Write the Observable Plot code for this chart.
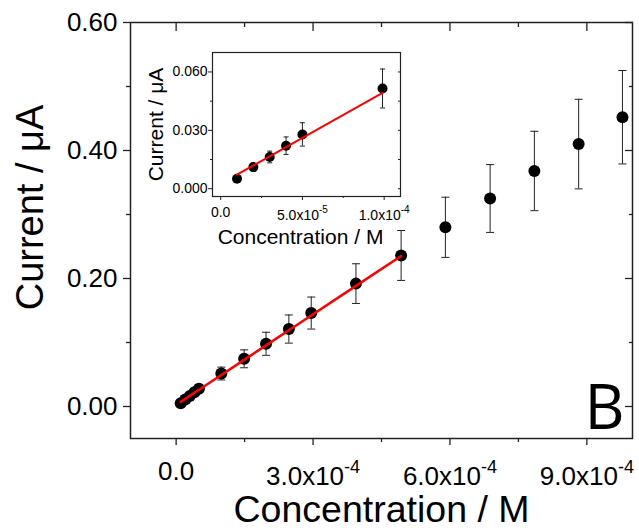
<!DOCTYPE html>
<html><head><meta charset="utf-8">
<script src="https://cdn.jsdelivr.net/npm/d3@7"></script>
<script src="https://cdn.jsdelivr.net/npm/@observablehq/plot@0.6"></script>
<style>
body{margin:0;background:#fff;}
#wrap{position:relative;width:639px;height:531px;}
#main{position:absolute;left:0;top:0;}
#inset{position:absolute;left:140px;top:45px;}
</style></head>
<body><div id="wrap"><div id="main"></div><div id="inset"></div></div>
<script>
// ---- data ----
const concentration = [1e-5, 2e-5, 3e-5, 4e-5, 5e-5, 0.99e-4, 1.49e-4, 1.97e-4, 2.47e-4, 2.96e-4, 3.94e-4, 4.93e-4, 5.90e-4, 6.88e-4, 7.85e-4, 8.82e-4, 9.78e-4];
const current = [0.0051, 0.0111, 0.0163, 0.0221, 0.0279, 0.0515, 0.0745, 0.098, 0.121, 0.146, 0.192, 0.236, 0.280, 0.325, 0.368, 0.410, 0.452];
const currentError = [0.0012, 0.002, 0.003, 0.0045, 0.006, 0.010, 0.014, 0.018, 0.022, 0.025, 0.031, 0.039, 0.047, 0.053, 0.062, 0.070, 0.073];
const linearCount = 12;   // points used by the linear fit in the main plot
const insetCount = 6;     // points shown in the inset
const fitSlope = 472;
const fitIntercept = 0.0025;

const mainXTicks = [0, 3e-4, 6e-4, 9e-4];
const mainXMinor = [1.5e-4, 4.5e-4, 7.5e-4];
const mainYTicks = [0, 0.2, 0.4, 0.6];
const mainYMinor = [0.1, 0.3, 0.5];
const insetXTicks = [0, 5e-5, 1e-4];
const insetXMinor = [2.5e-5, 7.5e-5];
const insetYTicks = [0, 0.03, 0.06];
const insetYMinor = [0.015, 0.045];

const xTitle = "Concentration / M";
const yTitle = "Current / μA";
const panelLabel = "B";

// ---- helpers ----
const data = concentration.map((x, i) => ({x, y: current[i], e: currentError[i]}));
const linear = data.slice(0, linearCount);
const insetData = data.slice(0, insetCount);
const fit = x => fitIntercept + fitSlope * x;

function sciLabel(v) {
  if (v === 0) return "0.0";
  const e = Math.floor(Math.log10(Math.abs(v)) + 1e-9);
  const m = v / Math.pow(10, e);
  return m.toFixed(1) + "x10^" + e;
}
const blank = () => "";
const cap = w => ({draw(ctx) { ctx.moveTo(-w, 0); ctx.lineTo(w, 0); }});

function superscripts(svg, supSize, supShift, baseShift) {
  d3.select(svg).selectAll("text").each(function () {
    const t = this.textContent;
    const i = t.indexOf("^");
    if (i < 0) return;
    const sel = d3.select(this);
    sel.text(null);
    sel.append("tspan").attr("dy", baseShift).text(t.slice(0, i));
    sel.append("tspan").attr("dy", -supShift).attr("font-size", supSize).text(t.slice(i + 1));
  });
}

const font = "'Liberation Sans', Arial, sans-serif";
const ink = "#222";

// ---- main chart ----
const main = Plot.plot({
  width: 639, height: 531,
  marginLeft: 130, marginRight: 7, marginTop: 22, marginBottom: 93,
  x: {domain: [-1e-4, 1e-3]},
  y: {domain: [-0.05, 0.6]},
  style: {fontFamily: font, color: "#000", background: "white"},
  marks: [
    Plot.frame({stroke: ink, strokeWidth: 1.5}),
    Plot.axisX(mainXTicks, {anchor: "bottom", tickSize: 7, tickPadding: 16, fontSize: 26, tickFormat: sciLabel, label: null, stroke: ink, strokeWidth: 1.3}),
    Plot.axisX(mainXMinor, {anchor: "bottom", tickSize: 4, tickFormat: blank, label: null, stroke: ink, strokeWidth: 1.3}),
    Plot.axisX(mainXTicks, {anchor: "top", tickSize: -8, tickFormat: blank, label: null, stroke: ink, strokeWidth: 1.3}),
    Plot.axisX(mainXMinor, {anchor: "top", tickSize: -4, tickFormat: blank, label: null, stroke: ink, strokeWidth: 1.3}),
    Plot.axisY(mainYTicks, {anchor: "left", tickSize: 7, tickPadding: 6, fontSize: 26, tickFormat: d3.format(".2f"), label: null, stroke: ink, strokeWidth: 1.3}),
    Plot.axisY(mainYMinor, {anchor: "left", tickSize: 4, tickFormat: blank, label: null, stroke: ink, strokeWidth: 1.3}),
    Plot.axisY(mainYTicks, {anchor: "right", tickSize: -8, tickFormat: blank, label: null, stroke: ink, strokeWidth: 1.3}),
    Plot.axisY(mainYMinor, {anchor: "right", tickSize: -4, tickFormat: blank, label: null, stroke: ink, strokeWidth: 1.3}),
    Plot.ruleX(data, {x: "x", y1: d => d.y - d.e, y2: d => d.y + d.e, stroke: ink, strokeWidth: 1}),
    Plot.dot(data, {x: "x", y: d => d.y + d.e, symbol: cap(4), fill: "none", stroke: ink, strokeWidth: 1}),
    Plot.dot(data, {x: "x", y: d => d.y - d.e, symbol: cap(4), fill: "none", stroke: ink, strokeWidth: 1}),
    Plot.dot(data, {x: "x", y: "y", r: 6, fill: "#000", stroke: "none"}),
    Plot.line(linear, {x: "x", y: d => fit(d.x), stroke: "#ff0000", strokeWidth: 2.5}),
    Plot.text([xTitle], {frameAnchor: "bottom", textAnchor: "middle", lineAnchor: "bottom", dy: 83, fontSize: 37.5, fill: "#000"}),
    Plot.text([yTitle], {frameAnchor: "left", textAnchor: "middle", rotate: -90, lineAnchor: "bottom", dx: -88, dy: -23, fontSize: 38, fill: "#000"}),
    Plot.text([panelLabel], {frameAnchor: "bottom-right", textAnchor: "end", lineAnchor: "bottom", dx: -8, dy: -10, fontSize: 62, fontFamily: "'Open Sans', sans-serif", fill: "#000"})
  ]
});
superscripts(main, 18, 12, 5);
document.getElementById("main").append(main);

// ---- inset chart ----
const inset = Plot.plot({
  width: 276, height: 205,
  marginLeft: 72, marginRight: 16, marginTop: 7, marginBottom: 54,
  x: {domain: [-5e-6, 1.1e-4]},
  y: {domain: [-0.004, 0.07]},
  style: {fontFamily: font, color: "#000", background: "transparent", overflow: "visible"},
  marks: [
    Plot.frame({stroke: ink, strokeWidth: 1.2, fill: "white"}),
    Plot.axisX(insetXTicks, {anchor: "bottom", tickSize: 4, tickPadding: 7, fontSize: 14, tickFormat: sciLabel, label: null, stroke: ink}),
    Plot.axisX(insetXMinor, {anchor: "bottom", tickSize: 2, tickFormat: blank, label: null, stroke: ink}),
    Plot.axisY(insetYTicks, {anchor: "left", tickSize: 4, tickPadding: 1, fontSize: 14, tickFormat: d3.format(".3f"), label: null, stroke: ink}),
    Plot.axisY(insetYMinor, {anchor: "left", tickSize: 2, tickFormat: blank, label: null, stroke: ink}),
    Plot.axisY(insetYTicks.concat(insetYMinor), {anchor: "right", tickSize: -3, tickFormat: blank, label: null, stroke: ink}),
    Plot.ruleX(insetData, {x: "x", y1: d => d.y - d.e, y2: d => d.y + d.e, stroke: ink, strokeWidth: 1}),
    Plot.dot(insetData, {x: "x", y: d => d.y + d.e, symbol: cap(2.5), fill: "none", stroke: ink, strokeWidth: 1}),
    Plot.dot(insetData, {x: "x", y: d => d.y - d.e, symbol: cap(2.5), fill: "none", stroke: ink, strokeWidth: 1}),
    Plot.dot(insetData, {x: "x", y: "y", r: 5, fill: "#000", stroke: "none"}),
    Plot.line(insetData, {x: "x", y: d => fit(d.x), stroke: "#ff0000", strokeWidth: 2}),
    Plot.text([xTitle], {frameAnchor: "bottom", textAnchor: "middle", lineAnchor: "bottom", dx: -6, dy: 47, fontSize: 21, fill: "#000"}),
    Plot.text([yTitle], {frameAnchor: "left", textAnchor: "middle", rotate: -90, lineAnchor: "bottom", dx: -50, dy: 0, fontSize: 21, fill: "#000"})
  ]
});
superscripts(inset, 10, 7, 3);
document.getElementById("inset").append(inset);
</script>
</body></html>
